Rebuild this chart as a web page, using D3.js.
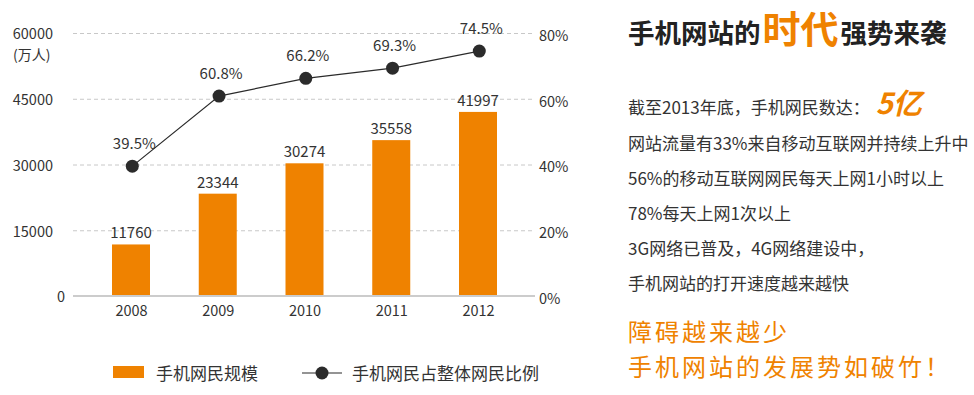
<!DOCTYPE html>
<html><head><meta charset="utf-8">
<script src="https://cdn.jsdelivr.net/npm/d3@7"></script>
<style>
html,body{margin:0;padding:0;background:#fff;}
svg{display:block;font-family:"Noto Sans CJK SC","Noto Sans",sans-serif;}
</style></head>
<body>
<svg id="c" width="974" height="395"></svg>
<script>
const years = ["2008","2009","2010","2011","2012"];
const users = [11760, 23344, 30274, 35558, 41997];
const share = [39.5, 60.8, 66.2, 69.3, 74.5];
const leftTicks = [0, 15000, 30000, 45000, 60000];
const rightTicks = [0, 20, 40, 60, 80];
const leftUnit = "(万人)";
const legendLabels = ["手机网民规模", "手机网民占整体网民比例"];
const titleParts = ["手机网站的", "时代", "强势来袭"];
const introText = "截至2013年底，手机网民数达：";
const introHighlight = "5亿";
const bodyLines = ["网站流量有33%来自移动互联网并持续上升中","56%的移动互联网网民每天上网1小时以上","78%每天上网1次以上","3G网络已普及，4G网络建设中，","手机网站的打开速度越来越快"];
const closingLines = ["障碍越来越少","手机网站的发展势如破竹！"];

const ORANGE = "#ef8200", DARK = "#2b2b2b", TXT = "#333";
const svg = d3.select("#c");
const gx0 = 73, gx1 = 535;
const y = d3.scaleLinear().domain([0,60000]).range([296,33]);
const yR = d3.scaleLinear().domain([0,80]).range([296,33]);
const x = d3.scalePoint().domain(years).range([131,478]);
const bw = 38;

// grid
svg.append("g").selectAll("line").data(leftTicks.filter(d=>d>0)).join("line")
  .attr("x1",gx0).attr("x2",gx1).attr("y1",d=>y(d)+0.5).attr("y2",d=>y(d)+0.5)
  .attr("stroke","#c8c8c8").attr("stroke-dasharray","4,3");

// left axis
const la = svg.append("g").attr("transform","translate(53,0)")
  .call(d3.axisLeft(y).tickValues(leftTicks).tickSize(0).tickPadding(0).tickFormat(d3.format("d")));
la.select(".domain").remove();
la.selectAll("text").attr("font-size",14.5).attr("fill",TXT).attr("font-family","Noto Sans CJK SC").attr("dy","0.4em");
la.selectAll(".tick").filter(d=>d===0).select("text").attr("x",12);
svg.append("text").attr("x",13).attr("y",59.5).attr("font-size",14).attr("fill",TXT).text(leftUnit);

// right axis
const ra = svg.append("g").attr("transform","translate(539,0)")
  .call(d3.axisRight(yR).tickValues(rightTicks).tickSize(0).tickPadding(0).tickFormat(d=>d+"%"));
ra.select(".domain").remove();
ra.selectAll("text").attr("font-size",14.5).attr("fill",TXT).attr("font-family","Noto Sans CJK SC").attr("dy","0.5em");

// bars
svg.append("g").selectAll("rect").data(users).join("rect")
  .attr("x",(d,i)=>x(years[i])-bw/2).attr("width",bw)
  .attr("y",d=>y(d)).attr("height",d=>y(0)-1-y(d)).attr("fill",ORANGE);
svg.append("g").selectAll("text").data(users).join("text")
  .attr("x",(d,i)=>x(years[i])).attr("y",d=>y(d)-6).attr("text-anchor","middle")
  .attr("font-size",15).attr("fill",TXT).text(d=>d);

// baseline + x axis
svg.append("line").attr("x1",gx0).attr("x2",gx1).attr("y1",296).attr("y2",296).attr("stroke","#999").attr("stroke-width",1.2);
const xa = svg.append("g").attr("transform","translate(0,303)")
  .call(d3.axisBottom(x).tickSize(0).tickPadding(0));
xa.select(".domain").remove();
xa.selectAll("text").attr("font-size",14.5).attr("fill",TXT).attr("font-family","Noto Sans CJK SC").attr("dy","0.9em");

// line
const pts = share.map((d,i)=>[x(years[i])+1.3, yR(d)]);
svg.append("path").attr("d",d3.line()(pts)).attr("fill","none").attr("stroke",DARK).attr("stroke-width",1.2);
svg.append("g").selectAll("circle").data(pts).join("circle")
  .attr("cx",d=>d[0]).attr("cy",d=>d[1]).attr("r",6.5).attr("fill",DARK);
svg.append("g").selectAll("text").data(share).join("text")
  .attr("x",(d,i)=>pts[i][0]+2).attr("y",(d,i)=>pts[i][1]-17).attr("text-anchor","middle")
  .attr("font-size",15).attr("fill",TXT).text(d=>d.toFixed(1)+"%");

// legend
svg.append("rect").attr("x",113).attr("y",366).attr("width",31).attr("height",12).attr("fill",ORANGE);
svg.append("text").attr("x",156).attr("y",380).attr("font-size",17).attr("fill",TXT).text(legendLabels[0]);
svg.append("line").attr("x1",302).attr("x2",342).attr("y1",373).attr("y2",373).attr("stroke",DARK).attr("stroke-width",1.2);
svg.append("circle").attr("cx",322).attr("cy",373).attr("r",6.5).attr("fill",DARK);
svg.append("text").attr("x",352).attr("y",380).attr("font-size",17).attr("fill",TXT).text(legendLabels[1]);

// right panel
const t = svg.append("text").attr("x",628).attr("y",43).attr("font-weight",700).attr("fill","#222");
t.append("tspan").attr("font-size",26.5).text(titleParts[0]);
t.append("tspan").attr("font-size",38).attr("fill",ORANGE).attr("dx",2).text(titleParts[1]);
t.append("tspan").attr("font-size",26.5).attr("dx",2).text(titleParts[2]);

const l1 = svg.append("text").attr("x",628).attr("y",114).attr("font-size",17).attr("fill",TXT);
l1.append("tspan").text(introText);
l1.append("tspan").attr("dx",6).attr("font-size",29).attr("font-weight",700).attr("font-style","italic").attr("fill",ORANGE).text(introHighlight);

svg.append("g").selectAll("text").data(bodyLines).join("text")
  .attr("x",628).attr("y",(d,i)=>150+i*35).attr("font-size",17).attr("fill",TXT).text(d=>d);
svg.append("g").selectAll("text").data(closingLines).join("text")
  .attr("x",628).attr("y",(d,i)=>341+i*35).attr("font-size",24).attr("letter-spacing",3).attr("fill",ORANGE).text(d=>d);
</script>
</body></html>
